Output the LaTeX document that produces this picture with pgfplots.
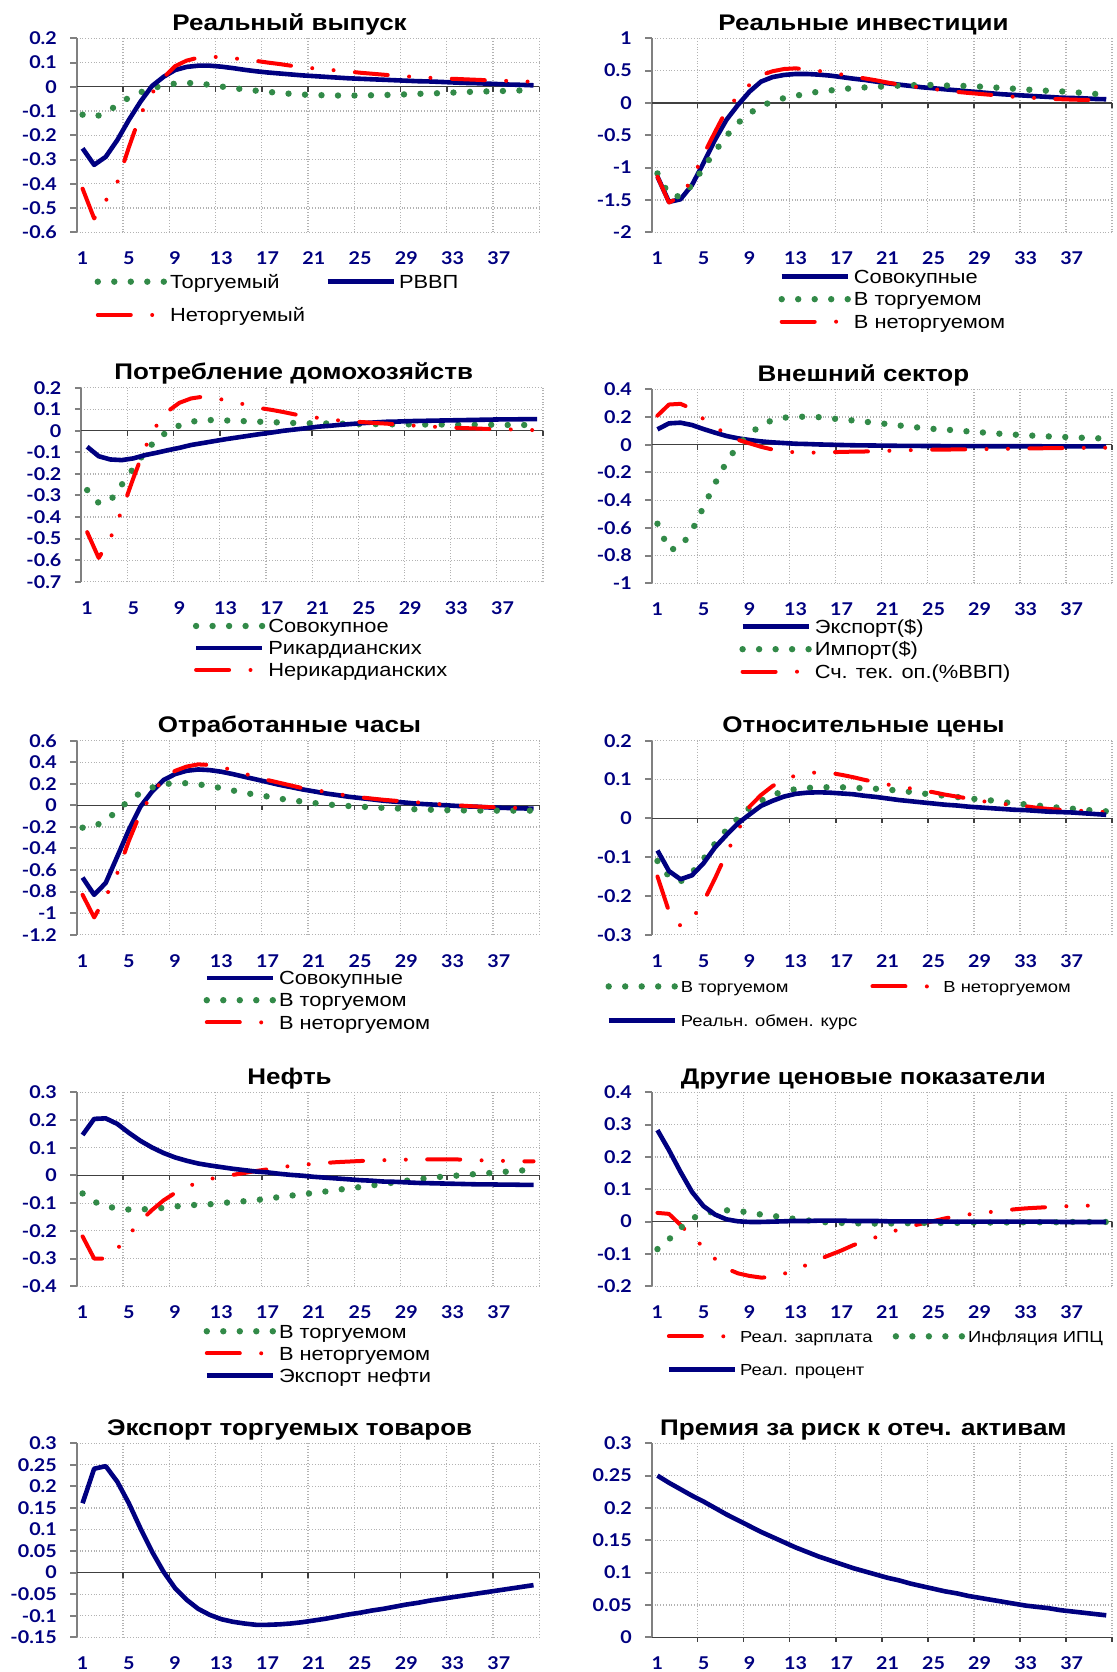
\documentclass[border=0pt]{standalone}
\usepackage{fontspec}
\setmainfont{Liberation Sans}[FakeStretch=1.15]
\newfontfamily\tickfont{Lato}[FakeStretch=1.12]
\usepackage{pgfplots}
\usepackage{pgfplotstable}
\pgfplotsset{compat=1.18}
\definecolor{navy}{RGB}{0,0,128}
\definecolor{grn}{RGB}{50,138,72}
\definecolor{axgray}{RGB}{128,128,128}

\tikzset{
  gdot/.style={color=grn, line width=3.2pt, line cap=round, dash pattern=on 0pt off 8.25pt},
  rdd/.style={color=red, line width=2pt, line cap=round, line join=round, dash pattern=on 16.5pt off 10.7pt on 0pt off 10.7pt on 0pt off 10.7pt},
  bsol/.style={color=navy, line width=2.3pt, line join=round},
}
\newcommand{\zeroline}{%
  \draw[black!75, line width=0.7pt] (axis cs:0.5,0) -- (axis cs:40.5,0);
  \pgfplotsinvokeforeach{4.5,8.5,12.5,16.5,20.5,24.5,28.5,32.5,36.5,40.5}{\draw[black!75, line width=0.7pt] (axis cs:##1,0) -- ++(0pt,-2.5pt);}%
}

\pgfplotsset{
  irf/.style={
    scale only axis, height=97pt,
    xmin=0.5, xmax=40.5,
    axis x line*=bottom, axis y line*=left,
    x axis line style={draw=none},
    y axis line style={draw=axgray, line width=1pt},
    xtick={1,5,...,37},
    minor xtick={4.5,8.5,12.5,16.5,20.5,24.5,28.5,32.5,36.5,40.5},
    xmajorgrids=false, xminorgrids=true, ymajorgrids=true,
    major grid style={black!30, densely dotted, line width=0.6pt},
    minor grid style={black!30, densely dotted, line width=0.6pt},
    tick align=outside,
    major tick length=3.3pt, minor tick length=0pt,
    xtick style={draw=none},
    ytick style={draw=axgray, line width=1pt},
    ticklabel style={font=\tickfont\bfseries\fontsize{8.8}{10}\selectfont, text=navy},
    xticklabel style={anchor=center, inner sep=0pt, yshift=-9.75pt},
    yticklabel style={anchor=east, inner sep=0pt, xshift=-6.5pt},
    /pgf/number format/assume math mode=true,
    /pgf/number format/fixed,
    every axis title/.style={at={(0.46,1)}, anchor=base, yshift=4pt, font=\bfseries\fontsize{11.3}{13}\selectfont},
    clip=false,
    legend cell align=left,
    legend image code/.code={\draw[##1] (0pt,0pt) -- (33pt,0pt);},
    legend style={draw=none, fill=none, inner sep=0pt, outer sep=0pt, at={(0,0)}, anchor=north west,
      font=\fontsize{9.5}{11}\selectfont,
      nodes={inner sep=0pt, text height=6.8pt, text depth=0pt},
      /tikz/every odd column/.append style={column sep=1.5pt}},
  },
  leftp/.style={irf, width=231.25pt},
  rightp/.style={irf, width=230.15pt},
}

% Panel 1: x, tradable (g), GDP (b), nontradable (r)
\pgfplotstableread{
x g b r
1 -0.115 -0.254 -0.420
2 -0.125 -0.322 -0.543
3 -0.108 -0.289 -0.470
4 -0.075 -0.220 -0.395
5 -0.045 -0.137 -0.250
6 -0.023 -0.062 -0.115
7 -0.007 0.003 -0.027
8 0.006 0.041 0.038
9 0.013 0.069 0.085
10 0.016 0.082 0.108
11 0.014 0.087 0.120
12 0.008 0.087 0.124
13 0.001 0.083 0.122
14 -0.005 0.077 0.118
15 -0.011 0.070 0.112
16 -0.016 0.064 0.107
17 -0.021 0.059 0.100
18 -0.025 0.055 0.094
19 -0.029 0.051 0.087
20 -0.032 0.047 0.081
21 -0.034 0.044 0.076
22 -0.035 0.041 0.072
23 -0.036 0.038 0.067
24 -0.036 0.035 0.063
25 -0.036 0.033 0.058
26 -0.035 0.031 0.054
27 -0.034 0.029 0.050
28 -0.033 0.027 0.046
29 -0.031 0.025 0.043
30 -0.029 0.023 0.040
31 -0.028 0.022 0.037
32 -0.026 0.020 0.035
33 -0.024 0.018 0.033
34 -0.022 0.016 0.031
35 -0.020 0.015 0.029
36 -0.019 0.013 0.027
37 -0.018 0.011 0.025
38 -0.016 0.009 0.024
39 -0.015 0.008 0.022
40 -0.014 0.006 0.021
}\tA

% Panel 2
\pgfplotstableread{
x b g r
1 -1.14 -1.09 -1.14
2 -1.53 -1.42 -1.54
3 -1.49 -1.45 -1.45
4 -1.27 -1.27 -1.18
5 -0.93 -1.00 -0.80
6 -0.57 -0.75 -0.45
7 -0.26 -0.51 -0.11
8 -0.03 -0.31 0.11
9 0.175 -0.16 0.28
10 0.33 -0.05 0.43
11 0.40 0.025 0.49
12 0.433 0.075 0.525
13 0.448 0.11 0.535
14 0.448 0.145 0.52
15 0.438 0.175 0.495
16 0.423 0.193 0.47
17 0.40 0.212 0.44
18 0.376 0.23 0.41
19 0.356 0.24 0.38
20 0.33 0.25 0.35
21 0.304 0.258 0.315
22 0.283 0.268 0.285
23 0.263 0.275 0.26
24 0.242 0.278 0.235
25 0.227 0.278 0.213
26 0.211 0.27 0.195
27 0.196 0.265 0.172
28 0.18 0.262 0.155
29 0.165 0.253 0.14
30 0.149 0.242 0.125
31 0.134 0.232 0.108
32 0.124 0.22 0.095
33 0.113 0.208 0.085
34 0.103 0.197 0.075
35 0.093 0.187 0.065
36 0.082 0.18 0.058
37 0.077 0.168 0.052
38 0.072 0.155 0.047
39 0.062 0.14 0.044
40 0.057 0.13 0.042
}\tB

% Panel 3
\pgfplotstableread{
x g b r
1 -0.275 -0.074 -0.47
2 -0.335 -0.118 -0.59
3 -0.325 -0.133 -0.50
4 -0.25 -0.136 -0.37
5 -0.175 -0.128 -0.22
6 -0.10 -0.113 -0.08
7 -0.04 -0.102 0.023
8 -0.003 -0.09 0.091
9 0.025 -0.079 0.13
10 0.042 -0.066 0.15
11 0.049 -0.057 0.158
12 0.05 -0.048 0.152
13 0.048 -0.039 0.142
14 0.046 -0.031 0.13
15 0.044 -0.023 0.118
16 0.042 -0.015 0.105
17 0.04 -0.008 0.097
18 0.038 0.0 0.087
19 0.036 0.006 0.076
20 0.035 0.012 0.067
21 0.034 0.019 0.06
22 0.034 0.023 0.053
23 0.033 0.028 0.047
24 0.032 0.032 0.043
25 0.031 0.036 0.04
26 0.031 0.039 0.036
27 0.030 0.042 0.033
28 0.030 0.043 0.029
29 0.030 0.045 0.025
30 0.029 0.046 0.022
31 0.029 0.047 0.019
32 0.029 0.048 0.016
33 0.028 0.049 0.014
34 0.028 0.050 0.012
35 0.028 0.051 0.010
36 0.028 0.052 0.008
37 0.027 0.053 0.007
38 0.027 0.053 0.006
39 0.027 0.054 0.004
40 0.027 0.054 0.003
}\tC

% Panel 4
\pgfplotstableread{
x b g r
1 0.111 -0.57 0.21
2 0.154 -0.76 0.29
3 0.159 -0.74 0.295
4 0.142 -0.62 0.26
5 0.113 -0.45 0.185
6 0.087 -0.28 0.125
7 0.063 -0.125 0.08
8 0.046 -0.005 0.035
9 0.034 0.078 0.01
10 0.024 0.14 -0.015
11 0.017 0.178 -0.035
12 0.012 0.195 -0.048
13 0.007 0.202 -0.055
14 0.005 0.202 -0.057
15 0.002 0.199 -0.057
16 0.0 0.19 -0.054
17 -0.002 0.183 -0.052
18 -0.004 0.175 -0.05
19 -0.005 0.166 -0.049
20 -0.006 0.158 -0.047
21 -0.007 0.149 -0.044
22 -0.008 0.139 -0.042
23 -0.008 0.13 -0.039
24 -0.009 0.121 -0.037
25 -0.009 0.114 -0.036
26 -0.010 0.109 -0.035
27 -0.010 0.103 -0.034
28 -0.010 0.096 -0.033
29 -0.010 0.09 -0.032
30 -0.011 0.084 -0.031
31 -0.011 0.078 -0.030
32 -0.011 0.073 -0.029
33 -0.011 0.068 -0.027
34 -0.011 0.064 -0.026
35 -0.012 0.06 -0.025
36 -0.012 0.057 -0.024
37 -0.012 0.053 -0.024
38 -0.012 0.05 -0.023
39 -0.012 0.047 -0.022
40 -0.012 0.045 -0.022
}\tD

% Panel 5
\pgfplotstableread{
x b g r
1 -0.67 -0.207 -0.83
2 -0.83 -0.195 -1.04
3 -0.72 -0.14 -0.85
4 -0.475 -0.05 -0.63
5 -0.228 0.045 -0.33
6 -0.012 0.115 -0.07
7 0.127 0.165 0.10
8 0.235 0.197 0.25
9 0.29 0.205 0.32
10 0.321 0.206 0.36
11 0.333 0.195 0.38
12 0.327 0.18 0.375
13 0.312 0.16 0.355
14 0.29 0.138 0.325
15 0.265 0.116 0.295
16 0.241 0.099 0.26
17 0.216 0.082 0.235
18 0.191 0.063 0.21
19 0.17 0.048 0.185
20 0.148 0.035 0.16
21 0.13 0.022 0.145
22 0.111 0.01 0.125
23 0.096 0.001 0.105
24 0.08 -0.006 0.09
25 0.068 -0.012 0.075
26 0.056 -0.018 0.063
27 0.043 -0.023 0.052
28 0.034 -0.028 0.043
29 0.025 -0.033 0.035
30 0.015 -0.037 0.027
31 0.009 -0.04 0.018
32 0.003 -0.043 0.01
33 -0.003 -0.045 0.003
34 -0.009 -0.047 -0.004
35 -0.012 -0.048 -0.01
36 -0.019 -0.049 -0.015
37 -0.022 -0.049 -0.019
38 -0.025 -0.049 -0.022
39 -0.028 -0.049 -0.024
40 -0.031 -0.049 -0.026
}\tE

% Panel 6
\pgfplotstableread{
x g r b
1 -0.11 -0.15 -0.083
2 -0.15 -0.24 -0.136
3 -0.163 -0.277 -0.157
4 -0.14 -0.26 -0.147
5 -0.105 -0.215 -0.116
6 -0.065 -0.155 -0.075
7 -0.03 -0.09 -0.043
8 0.0 -0.032 -0.013
9 0.027 0.03 0.01
10 0.045 0.06 0.032
11 0.06 0.083 0.045
12 0.07 0.10 0.056
13 0.075 0.11 0.063
14 0.078 0.117 0.066
15 0.08 0.118 0.067
16 0.08 0.117 0.066
17 0.08 0.112 0.064
18 0.079 0.106 0.062
19 0.077 0.099 0.058
20 0.076 0.093 0.055
21 0.074 0.087 0.051
22 0.071 0.082 0.047
23 0.068 0.077 0.044
24 0.064 0.072 0.041
25 0.061 0.067 0.038
26 0.058 0.061 0.035
27 0.055 0.056 0.033
28 0.051 0.051 0.03
29 0.049 0.045 0.028
30 0.046 0.041 0.026
31 0.042 0.037 0.024
32 0.038 0.034 0.022
33 0.036 0.031 0.021
34 0.033 0.027 0.019
35 0.03 0.024 0.017
36 0.027 0.022 0.016
37 0.025 0.021 0.015
38 0.022 0.019 0.013
39 0.02 0.017 0.011
40 0.018 0.016 0.009
}\tF

% Panel 7
\pgfplotstableread{
x g r b
1 -0.065 -0.22 0.146
2 -0.095 -0.30 0.204
3 -0.11 -0.30 0.206
4 -0.12 -0.265 0.186
5 -0.123 -0.215 0.154
6 -0.123 -0.165 0.125
7 -0.12 -0.125 0.101
8 -0.117 -0.09 0.081
9 -0.112 -0.063 0.065
10 -0.108 -0.042 0.053
11 -0.106 -0.025 0.043
12 -0.104 -0.013 0.036
13 -0.10 -0.005 0.03
14 -0.096 0.002 0.024
15 -0.093 0.009 0.019
16 -0.089 0.016 0.014
17 -0.084 0.022 0.011
18 -0.078 0.029 0.006
19 -0.073 0.034 0.002
20 -0.068 0.038 -0.001
21 -0.063 0.042 -0.005
22 -0.058 0.045 -0.008
23 -0.052 0.048 -0.011
24 -0.047 0.05 -0.014
25 -0.042 0.052 -0.017
26 -0.036 0.054 -0.019
27 -0.031 0.055 -0.022
28 -0.025 0.056 -0.023
29 -0.019 0.057 -0.025
30 -0.014 0.057 -0.027
31 -0.009 0.058 -0.028
32 -0.005 0.058 -0.029
33 -0.002 0.058 -0.030
34 0.002 0.057 -0.031
35 0.005 0.055 -0.032
36 0.008 0.054 -0.032
37 0.011 0.053 -0.033
38 0.015 0.052 -0.033
39 0.018 0.051 -0.034
40 0.02 0.051 -0.034
}\tG

% Panel 8
\pgfplotstableread{
x r g b
1 0.027 -0.085 0.283
2 0.024 -0.055 0.221
3 -0.01 -0.02 0.154
4 -0.048 0.01 0.092
5 -0.078 0.024 0.048
6 -0.115 0.032 0.022
7 -0.145 0.035 0.007
8 -0.16 0.033 0.001
9 -0.168 0.028 -0.001
10 -0.173 0.022 -0.001
11 -0.172 0.018 0.0
12 -0.161 0.013 0.001
13 -0.15 0.008 0.002
14 -0.133 0.004 0.002
15 -0.117 0.0 0.003
16 -0.103 -0.003 0.003
17 -0.089 -0.004 0.003
18 -0.073 -0.005 0.002
19 -0.06 -0.006 0.002
20 -0.048 -0.006 0.002
21 -0.036 -0.006 0.001
22 -0.024 -0.005 0.001
23 -0.014 -0.005 0.001
24 -0.006 -0.004 0.001
25 0.002 -0.004 0.001
26 0.01 -0.004 0.0
27 0.017 -0.004 0.0
28 0.022 -0.003 0.0
29 0.027 -0.003 0.0
30 0.03 -0.003 0.0
31 0.034 -0.003 0.0
32 0.038 -0.002 0.0
33 0.041 -0.002 0.0
34 0.043 -0.002 0.0
35 0.045 -0.002 0.0
36 0.047 -0.002 -0.001
37 0.048 -0.001 -0.001
38 0.049 -0.001 -0.001
39 0.05 -0.001 -0.001
40 0.05 -0.001 -0.001
}\tH

% Panels 9 and 10
\pgfplotstableread{
x e p
1 0.161 0.250
2 0.241 0.239
3 0.247 0.229
4 0.211 0.219
5 0.161 0.210
6 0.103 0.200
7 0.049 0.190
8 0.002 0.181
9 -0.036 0.172
10 -0.063 0.163
11 -0.084 0.155
12 -0.098 0.147
13 -0.108 0.139
14 -0.114 0.132
15 -0.118 0.125
16 -0.121 0.119
17 -0.121 0.113
18 -0.120 0.107
19 -0.118 0.102
20 -0.115 0.097
21 -0.111 0.092
22 -0.107 0.088
23 -0.102 0.083
24 -0.097 0.079
25 -0.093 0.075
26 -0.088 0.071
27 -0.084 0.068
28 -0.079 0.064
29 -0.074 0.061
30 -0.070 0.058
31 -0.065 0.055
32 -0.061 0.052
33 -0.057 0.049
34 -0.053 0.047
35 -0.049 0.045
36 -0.045 0.042
37 -0.041 0.040
38 -0.037 0.038
39 -0.033 0.036
40 -0.029 0.034
}\tI

\begin{document}
\begin{tikzpicture}
\useasboundingbox (0,0) rectangle (558.5pt,836pt);

% ---------- Panel 1
\begin{axis}[leftp, at={(38.4pt,816.85pt)}, anchor=north west,
  ymin=-0.6, ymax=0.2, ytick={-0.6,-0.5,-0.4,-0.3,-0.2,-0.1,0,0.1,0.2},
  title={Реальный выпуск},
  legend columns=2,
  legend style={xshift=8.9pt, yshift=-21.3pt, row sep=9.85pt, /tikz/every even column/.append style={column sep=10.2pt}}]
\zeroline
\addplot[gdot] table[x=x,y=g]{\tA}; \addlegendentry{Торгуемый}
\addplot[bsol] table[x=x,y=b]{\tA}; \addlegendentry{РВВП}
\addplot[rdd] table[x=x,y=r]{\tA}; \addlegendentry{Неторгуемый}
\end{axis}

% ---------- Panel 2
\begin{axis}[rightp, at={(325.85pt,816.85pt)}, anchor=north west,
  ymin=-2, ymax=1, ytick={-2,-1.5,-1,-0.5,0,0.5,1},
  title={Реальные инвестиции},
  legend style={xshift=63.4pt, yshift=-18.8pt, row sep=4.45pt}]
\zeroline
\addplot[bsol] table[x=x,y=b]{\tB}; \addlegendentry{Совокупные}
\addplot[gdot] table[x=x,y=g]{\tB}; \addlegendentry{В торгуемом}
\addplot[rdd] table[x=x,y=r]{\tB}; \addlegendentry{В неторгуемом}
\end{axis}

% ---------- Panel 3
\begin{axis}[irf, width=230.75pt, at={(40.7pt,642.15pt)}, anchor=north west,
  ymin=-0.7, ymax=0.2, ytick={-0.7,-0.6,-0.5,-0.4,-0.3,-0.2,-0.1,0,0.1,0.2},
  title={Потребление домохозяйств},
  legend style={xshift=55.75pt, yshift=-18.75pt, row sep=4.2pt}]
\zeroline
\addplot[gdot] table[x=x,y=g]{\tC}; \addlegendentry{Совокупное}
\addplot[bsol] table[x=x,y=b]{\tC}; \addlegendentry{Рикардианских}
\addplot[rdd] table[x=x,y=r]{\tC}; \addlegendentry{Нерикардианских}
\end{axis}

% ---------- Panel 4
\begin{axis}[rightp, at={(325.85pt,641.35pt)}, anchor=north west,
  ymin=-1, ymax=0.4, ytick={-1,-0.8,-0.6,-0.4,-0.2,0,0.2,0.4},
  title={Внешний сектор},
  legend style={xshift=43.85pt, yshift=-18.3pt, row sep=4.45pt}]
\zeroline
\addplot[bsol] table[x=x,y=b]{\tD}; \addlegendentry{Экспорт(\$)}
\addplot[gdot] table[x=x,y=g]{\tD}; \addlegendentry{Импорт(\$)}
\addplot[rdd] table[x=x,y=r]{\tD}; \addlegendentry{Сч. тек. оп.(\%ВВП)}
\end{axis}

% ---------- Panel 5
\begin{axis}[leftp, at={(38.4pt,465.65pt)}, anchor=north west,
  ymin=-1.2, ymax=0.6, ytick={-1.2,-1,-0.8,-0.6,-0.4,-0.2,0,0.2,0.4,0.6},
  title={Отработанные часы},
  legend style={xshift=63.4pt, yshift=-18.25pt, row sep=4.3pt}]
\zeroline
\addplot[bsol] table[x=x,y=b]{\tE}; \addlegendentry{Совокупные}
\addplot[gdot] table[x=x,y=g]{\tE}; \addlegendentry{В торгуемом}
\addplot[rdd] table[x=x,y=r]{\tE}; \addlegendentry{В неторгуемом}
\end{axis}

% ---------- Panel 6
\begin{axis}[rightp, at={(325.85pt,465.65pt)}, anchor=north west,
  ymin=-0.3, ymax=0.2, ytick={-0.3,-0.2,-0.1,0,0.1,0.2},
  title={Относительные цены},
  legend columns=2,
  legend style={xshift=-23.1pt, yshift=-23pt, row sep=11.27pt, font=\fontsize{8}{10}\selectfont,
    nodes={text height=5.73pt}, /tikz/every even column/.append style={column sep=6.6pt}}]
\zeroline
\addplot[gdot] table[x=x,y=g]{\tF}; \addlegendentry{В торгуемом}
\addplot[rdd] table[x=x,y=r]{\tF}; \addlegendentry{В неторгуемом}
\addplot[bsol] table[x=x,y=b]{\tF}; \addlegendentry{Реальн. обмен. курс}
\end{axis}

% ---------- Panel 7
\begin{axis}[leftp, at={(38.4pt,289.85pt)}, anchor=north west,
  ymin=-0.4, ymax=0.3, ytick={-0.4,-0.3,-0.2,-0.1,0,0.1,0.2,0.3},
  title={Нефть},
  legend style={xshift=63.4pt, yshift=-19.1pt, row sep=4.2pt}]
\zeroline
\addplot[gdot] table[x=x,y=g]{\tG}; \addlegendentry{В торгуемом}
\addplot[rdd] table[x=x,y=r]{\tG}; \addlegendentry{В неторгуемом}
\addplot[bsol] table[x=x,y=b]{\tG}; \addlegendentry{Экспорт нефти}
\end{axis}

% ---------- Panel 8
\begin{axis}[rightp, at={(325.85pt,289.85pt)}, anchor=north west,
  ymin=-0.2, ymax=0.4, ytick={-0.2,-0.1,0,0.1,0.2,0.3,0.4},
  title={Другие ценовые показатели},
  legend columns=2,
  legend style={xshift=7.45pt, yshift=-22.15pt, row sep=10.9pt, font=\fontsize{8}{10}\selectfont,
    nodes={text height=5.73pt}, /tikz/every even column/.append style={column sep=10pt}}]
\zeroline
\addplot[rdd] table[x=x,y=r]{\tH}; \addlegendentry{Реал. зарплата}
\addplot[gdot] table[x=x,y=g]{\tH}; \addlegendentry{Инфляция ИПЦ}
\addplot[bsol] table[x=x,y=b]{\tH}; \addlegendentry{Реал. процент}
\end{axis}

% ---------- Panel 9
\begin{axis}[leftp, at={(38.4pt,114.35pt)}, anchor=north west,
  ymin=-0.15, ymax=0.3, ytick={-0.15,-0.1,-0.05,0,0.05,0.1,0.15,0.2,0.25,0.3},
  title={Экспорт торгуемых товаров}]
\zeroline
\addplot[bsol] table[x=x,y=e]{\tI};
\end{axis}

% ---------- Panel 10
\begin{axis}[rightp, at={(325.85pt,114.35pt)}, anchor=north west,
  ymin=0, ymax=0.3, ytick={0,0.05,0.1,0.15,0.2,0.25,0.3},
  title={Премия за риск к отеч. активам}]
\zeroline
\addplot[bsol] table[x=x,y=p]{\tI};
\end{axis}
\end{tikzpicture}
\end{document}
